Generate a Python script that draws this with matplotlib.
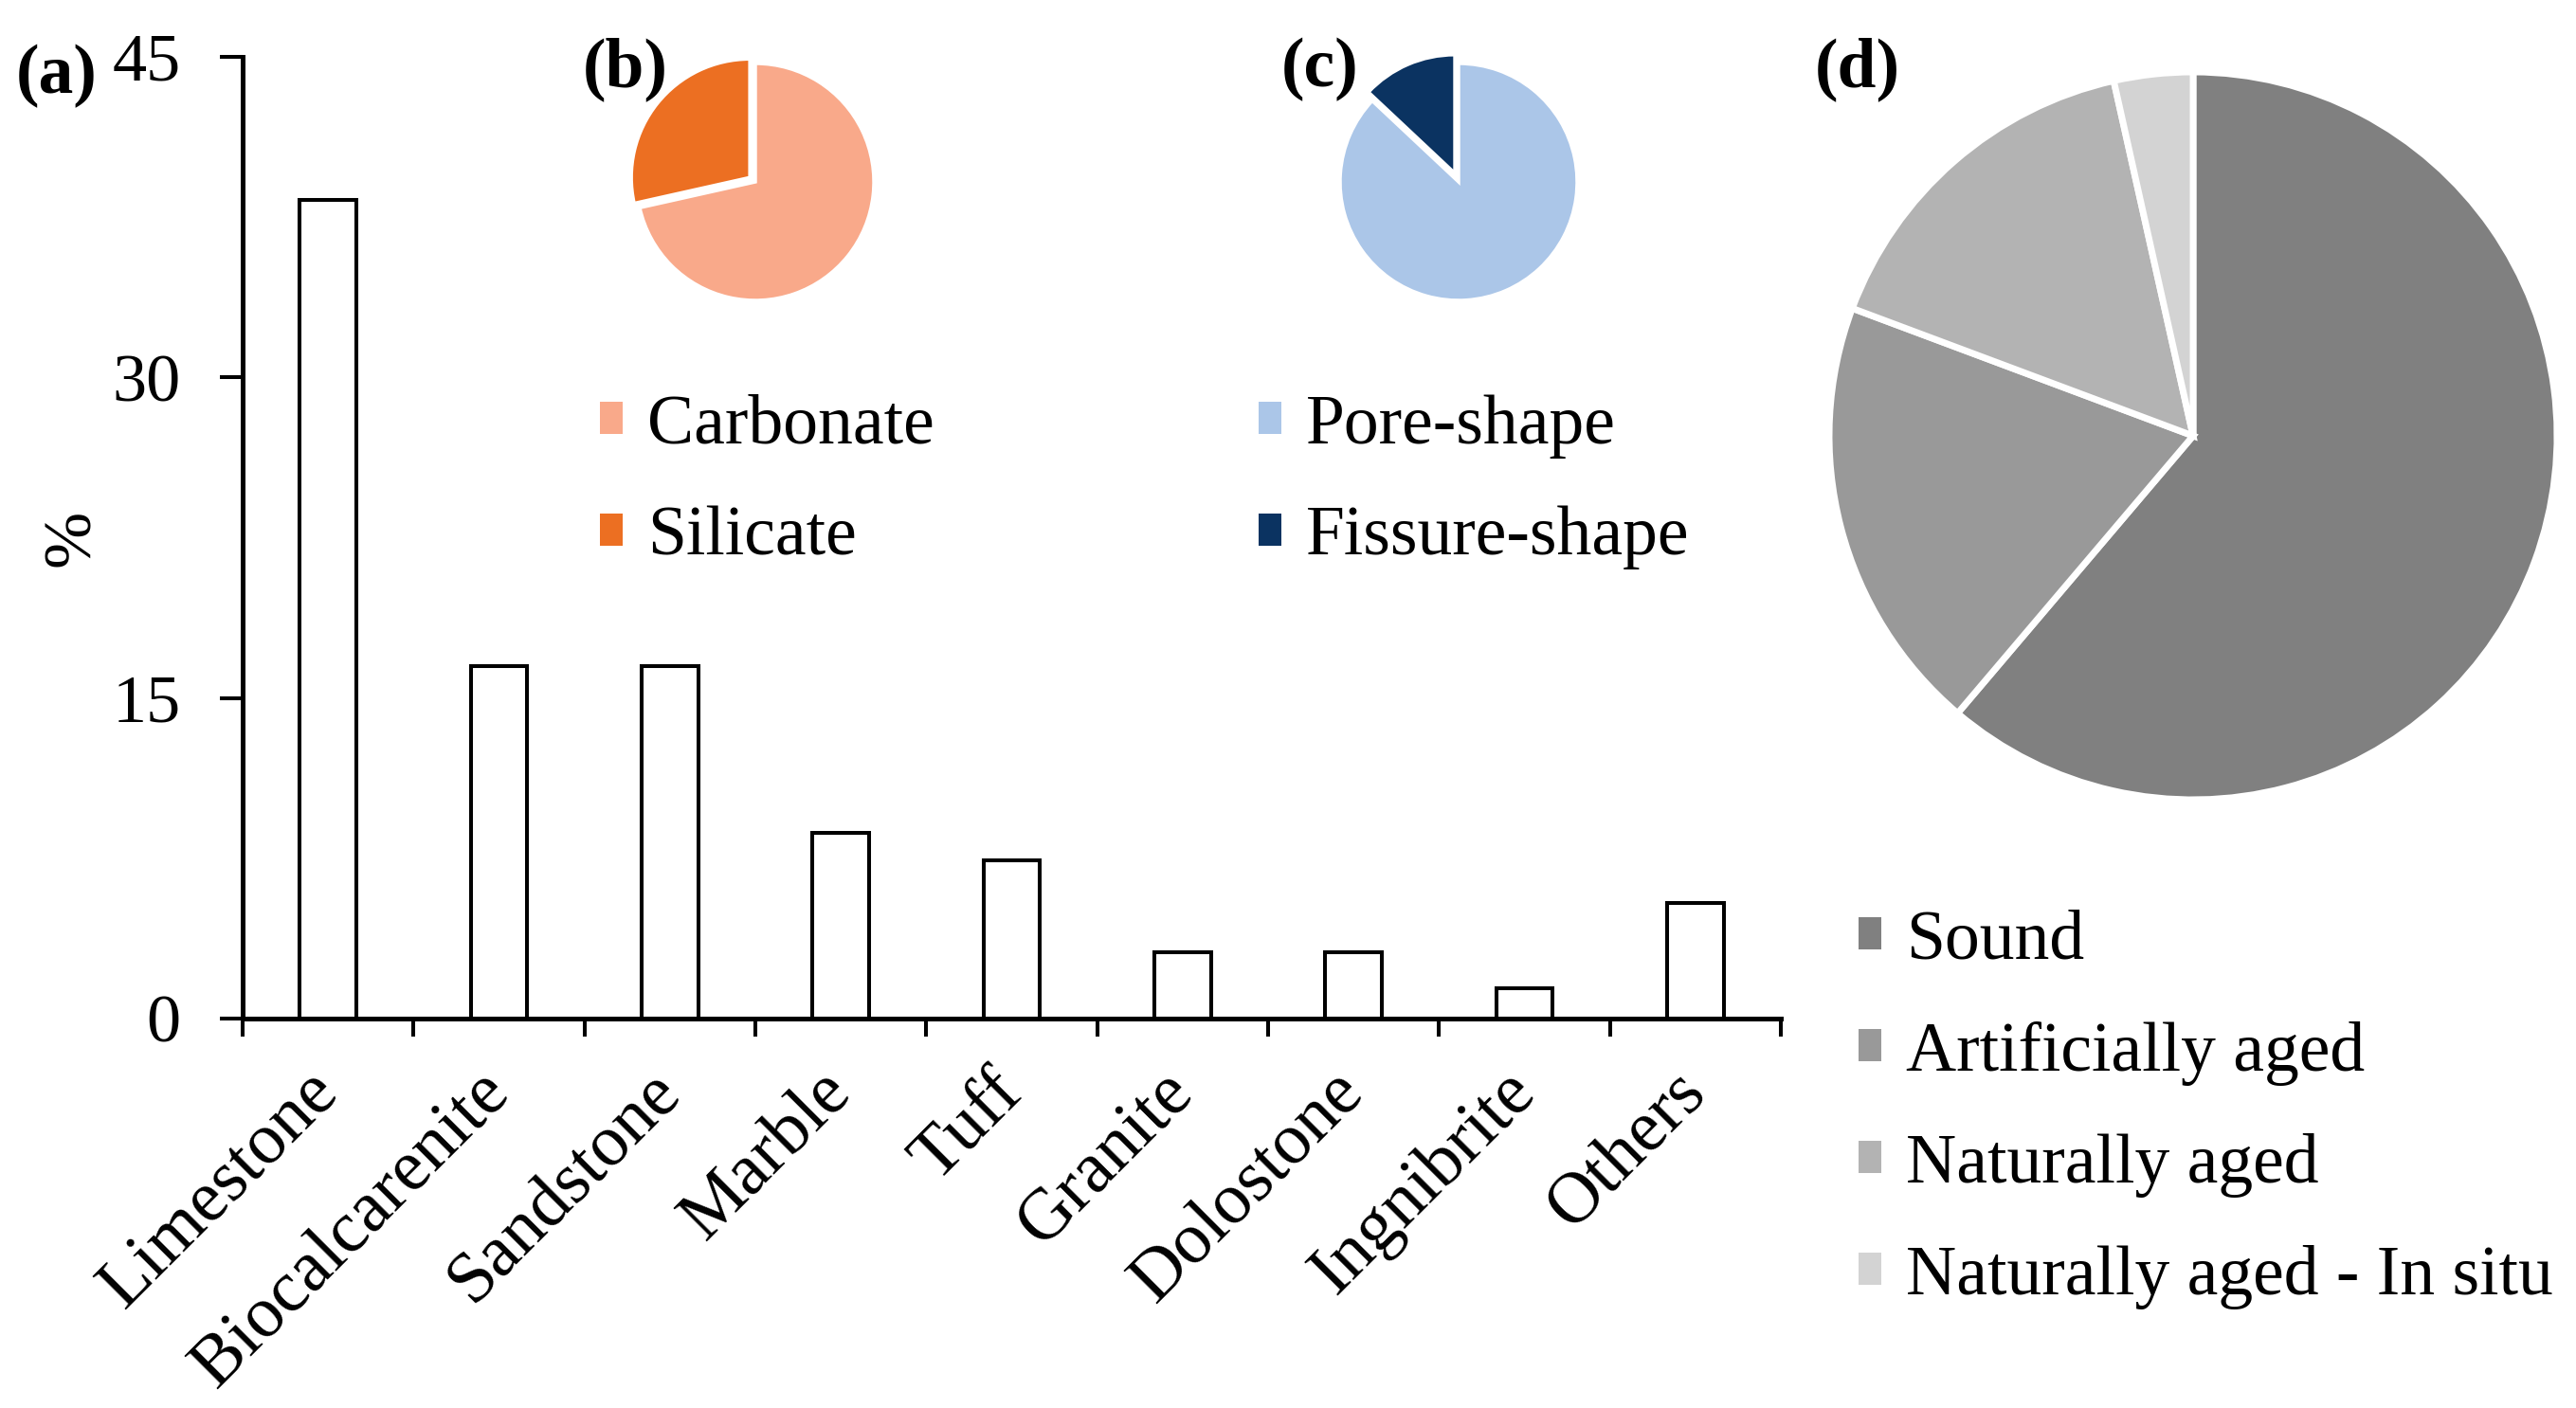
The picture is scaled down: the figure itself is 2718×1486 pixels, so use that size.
import numpy as np
import matplotlib.pyplot as plt
from matplotlib.patches import Patch

plt.rcParams['font.family'] = ['Liberation Serif', 'DejaVu Serif']

# (a) stone types, % of studies
rock_types = ['Limestone', 'Biocalcarenite', 'Sandstone', 'Marble', 'Tuff',
              'Granite', 'Dolostone', 'Ingnibrite', 'Others']
rock_share = [38.3, 16.5, 16.5, 8.7, 7.4, 3.1, 3.1, 1.4, 5.4]

# (b) mineralogy
comp_labels = ['Carbonate', 'Silicate']
comp_share = [71.5, 28.5]
comp_colours = ['#F9A98A', '#EC6F22']

# (c) porosity type
shape_labels = ['Pore-shape', 'Fissure-shape']
shape_share = [87, 13]
shape_colours = ['#ABC6E8', '#0B3361']

# (d) stone condition
state_labels = ['Sound', 'Artificially aged', 'Naturally aged', 'Naturally aged - In situ']
state_share = [61.2, 19.5, 15.8, 3.5]
state_colours = ['#808080', '#999999', '#B3B3B3', '#D3D3D3']

W, H = 2718, 1486
fig = plt.figure(figsize=(W / 100, H / 100), dpi=100)


def box(x0, y0, x1, y1):
    # pixel box, origin top-left -> figure fraction rect
    return [x0 / W, 1 - y1 / H, (x1 - x0) / W, (y1 - y0) / H]


# ---- bar chart
ax = fig.add_axes(box(256, 60, 1879, 1075))
x = np.arange(len(rock_types))
ax.bar(x, rock_share, width=0.33, color='white', edgecolor='black', linewidth=2.9, zorder=3)
ax.set_xlim(-0.5, len(rock_types) - 0.5)
ax.set_ylim(0, 45)
ax.set_yticks([0, 15, 30, 45])
ax.set_xticks(np.arange(-0.5, len(rock_types)), [''] * (len(rock_types) + 1))
ax.set_xticks(x, rock_types, minor=True)
for lab in ax.get_xticklabels(minor=True):
    lab.set_rotation(45)
    lab.set_ha('right')
    lab.set_va('center')
    lab.set_rotation_mode('anchor')
ax.tick_params(axis='x', which='minor', length=0, pad=48, labelsize=55)
ax.tick_params(axis='x', which='major', length=14, width=2.9, direction='out')
ax.tick_params(axis='y', length=17, width=2.9, pad=30, labelsize=52)
for s in ['top', 'right']:
    ax.spines[s].set_visible(False)
for s in ['left', 'bottom']:
    ax.spines[s].set_linewidth(3.6)
ax.spines['bottom'].set_zorder(4)
ax.set_ylabel('%', fontsize=52)
ax.yaxis.label.set_va('center')
ax.yaxis.set_label_coords((77 - 256) / 1623, 0.5)

fig.text(17 / W, 1 - 80 / H, '(a)', fontsize=53, fontweight='bold', ha='left', va='center')


def pie_axes(cx, cy, r):
    k = 1.3
    a = fig.add_axes(box(cx - k * r, cy - k * r, cx + k * r, cy + k * r))
    a.set_aspect('equal')
    a.axis('off')
    return a


# ---- (b)
axb = pie_axes(797, 192, 125)
axb.pie(comp_share, colors=comp_colours, startangle=90, counterclock=False,
        explode=[0, 0.06], wedgeprops=dict(edgecolor='white', linewidth=2.5))
axb.set_xlim(-1.3, 1.3); axb.set_ylim(-1.3, 1.3)
fig.text(615 / W, 1 - 73 / H, '(b)', fontsize=53, fontweight='bold', ha='left', va='center')

# ---- (c)
axc = pie_axes(1539, 192, 125)
axc.pie(shape_share, colors=shape_colours, startangle=90, counterclock=False,
        explode=[0, 0.08], wedgeprops=dict(edgecolor='white', linewidth=2.5))
axc.set_xlim(-1.3, 1.3); axc.set_ylim(-1.3, 1.3)
fig.text(1352 / W, 1 - 73 / H, '(c)', fontsize=53, fontweight='bold', ha='left', va='center')

# ---- (d)
axd = pie_axes(2314, 460, 384)
axd.pie(state_share, colors=state_colours, startangle=90, counterclock=False,
        wedgeprops=dict(edgecolor='white', linewidth=5))
axd.set_xlim(-1.3, 1.3); axd.set_ylim(-1.3, 1.3)
fig.text(1915 / W, 1 - 73 / H, '(d)', fontsize=53, fontweight='bold', ha='left', va='center')

leg_kw = dict(loc='upper left', frameon=False, fontsize=53, handlelength=0.33,
              handleheight=0.33, handletextpad=0.35, labelspacing=0.68,
              borderpad=0, borderaxespad=0)


def add_legend(labels, colours, x0, y0):
    handles = [Patch(facecolor=c, edgecolor='none', label=l) for l, c in zip(labels, colours)]
    fig.legend(handles=handles, bbox_to_anchor=(x0 / W, 1 - y0 / H), **leg_kw)


add_legend(comp_labels, comp_colours, 633, 416)
add_legend(shape_labels, shape_colours, 1328, 416)
add_legend(state_labels, state_colours, 1961, 960)

fig.savefig('out.png', dpi=100)
